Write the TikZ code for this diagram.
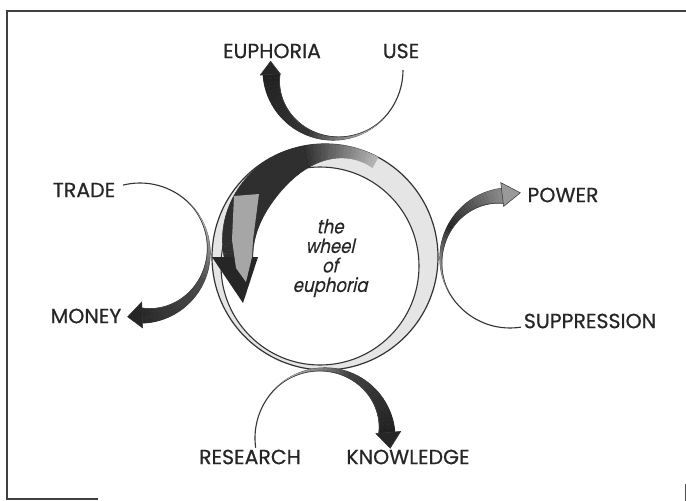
\documentclass[tikz,border=0pt]{standalone}
\usepackage{fontspec}
\newfontfamily\labfont[FakeBold=0.6]{Poppins}
\newfontfamily\cenfont[FakeSlant=0.22,FakeStretch=0.85,FakeBold=0.4]{Poppins}
\tikzset{
  lab/.style={font=\labfont\fontsize{20.5}{20.5}\selectfont, inner sep=0pt, text=black!85},
  thinarc/.style={line width=1.1pt, draw=black!80},
}
% crescent band on a circle: cx, cy, r, phi start, phi end, wmax, c0, c1, c2
\newcommand{\crescband}[9]{%
  \foreach \i in {0,...,35}{%
    \pgfmathsetmacro{\ta}{\i/36}%
    \pgfmathsetmacro{\tb}{(\i+1)/36}%
    \pgfmathsetmacro{\pa}{#4+\ta*(#5-#4)}%
    \pgfmathsetmacro{\pb}{#4+\tb*(#5-#4)}%
    \pgfmathsetmacro{\wa}{#6*\ta*(0.35+0.65*\ta)}%
    \pgfmathsetmacro{\wb}{#6*\tb*(0.35+0.65*\tb)}%
    \pgfmathtruncatemacro{\cc}{\ta<0.5 ? #7+(#8-#7)*\ta*2 : #8+(#9-#8)*(\ta-0.5)*2}%
    \fill[black!\cc, draw=black!\cc, line width=0.4pt]
      ({#1+#3*cos(\pa)},{#2+#3*sin(\pa)}) -- ({#1+#3*cos(\pb)},{#2+#3*sin(\pb)})
      -- ({#1+(#3-\wb)*cos(\pb)},{#2+(#3-\wb)*sin(\pb)})
      -- ({#1+(#3-\wa)*cos(\pa)},{#2+(#3-\wa)*sin(\pa)}) -- cycle;
  }%
  \draw[line width=0.7pt, black!75] plot[domain=#4:#5, samples=40, variable=\u]
    ({#1+(#3-#6*((\u-#4)/(#5-#4))*(0.35+0.65*(\u-#4)/(#5-#4)))*cos(\u)},
     {#2+(#3-#6*((\u-#4)/(#5-#4))*(0.35+0.65*(\u-#4)/(#5-#4)))*sin(\u)});
}
% arrow head: cx, cy, phi base, r inner, r outer, phi tip, r tip, colour
\newcommand{\crhead}[8]{%
  \fill[#8, draw=black!80, line width=0.5pt]
    ({#1+#4*cos(#3)},{#2+#4*sin(#3)}) -- ({#1+#5*cos(#3)},{#2+#5*sin(#3)})
    -- ({#1+#7*cos(#6)},{#2+#7*sin(#6)}) -- cycle;
}
\begin{document}
\begin{tikzpicture}[x=1pt,y=-1pt]
\useasboundingbox (0,0) rectangle (686,501);
\fill[white] (0,0) rectangle (686,501);
% frame
\draw[line width=1.6pt, black!75] (686,11) -- (7,11) -- (7,499) -- (98,499);
\draw[line width=1pt, black!70] (685,484) -- (685,501);

% ---------- the wheel ----------
\fill[black!10, even odd rule] (325,257) circle[radius=113pt] (320,266) circle[radius=99pt];
\draw[line width=1.2pt, black!80] (325,257) circle[radius=113pt];
\draw[line width=1.1pt, black!80] (320,266) circle[radius=99pt];
% big arrow body
\foreach \i in {0,...,58}{%
  \pgfmathsetmacro{\pa}{62+2*\i}%
  \pgfmathsetmacro{\pb}{64+2*\i}%
  \pgfmathsetmacro{\ria}{72+30*exp(-((\pa-70)/45)*((\pa-70)/45))}%
  \pgfmathsetmacro{\rib}{72+30*exp(-((\pb-70)/45)*((\pb-70)/45))}%
  \pgfmathsetmacro{\roa}{113-12*(max(0,\pa-110)/70)*(max(0,\pa-110)/70)}%
  \pgfmathsetmacro{\rob}{113-12*(max(0,\pb-110)/70)*(max(0,\pb-110)/70)}%
  \pgfmathtruncatemacro{\cc}{\pa<100 ? 30+52*(\pa-62)/38 : 82}%
  \fill[black!\cc, draw=black!\cc, line width=0.4pt]
    ({325+\roa*cos(\pa)},{257-\roa*sin(\pa)}) -- ({325+\rob*cos(\pb)},{257-\rob*sin(\pb)})
    -- ({325+\rib*cos(\pb)},{257-\rib*sin(\pb)}) -- ({325+\ria*cos(\pa)},{257-\ria*sin(\pa)}) -- cycle;
}
\fill[black!85] (212,257) -- (258,257) -- (243,303) -- cycle;
\fill[black!35] (234,196) -- (259,194) -- (253,240) -- (252,257) -- (246,282) -- (236,268) -- (232,240) -- cycle;
\node[font=\cenfont\fontsize{19.5}{19.5}\selectfont, align=center, text=black!85, inner sep=0pt] (wheel) at (330,258) {the\\wheel\\of\\euphoria};

% ---------- top circle: USE -> EUPHORIA ----------
\draw[thinarc] plot[domain=0:178, samples=60] ({333+70*cos(\x)},{70+70*sin(\x)});
\crescband{333}{70}{70}{45}{176}{17}{12}{80}{88}
\crhead{333}{70}{176}{53}{73}{188}{63}{black!85}

% ---------- left circle: TRADE -> MONEY ----------
\draw[thinarc] plot[domain=-104:90, samples=60] ({140+70*cos(\x)},{253+70*sin(\x)});
\crescband{140}{253}{70}{-45}{88}{15}{12}{70}{85}
\crhead{140}{253}{88}{49}{75}{101}{65}{black!85}

% ---------- right circle: SUPPRESSION -> POWER ----------
\draw[thinarc] plot[domain=81:264, samples=60] ({510+70*cos(\x)},{258+70*sin(\x)});
\crescband{510}{258}{70}{150}{263}{15}{15}{85}{45}
\crhead{510}{258}{263}{52}{76}{279}{66}{black!40}

% ---------- bottom circle: RESEARCH -> KNOWLEDGE ----------
\draw[thinarc] plot[domain=172:357, samples=60] ({325+70*cos(\x)},{438+70*sin(\x)});
\crescband{325}{438}{70}{225}{355}{16}{12}{75}{88}
\crhead{325}{438}{355}{51}{76}{369}{66}{black!85}

% ---------- labels ----------
\node[lab] (euphoria) at (272,51) {EUPHORIA};
\node[lab] (use) at (401,51) {USE};
\node[lab] (trade) at (84,190) {TRADE};
\node[lab] (money) at (86,316) {MONEY};
\node[lab] (power) at (563,195) {POWER};
\node[lab] (suppression) at (590,321) {SUPPRESSION};
\node[lab] (research) at (250,457) {RESEARCH};
\node[lab] (knowledge) at (408,457) {KNOWLEDGE};
\end{tikzpicture}
\end{document}
